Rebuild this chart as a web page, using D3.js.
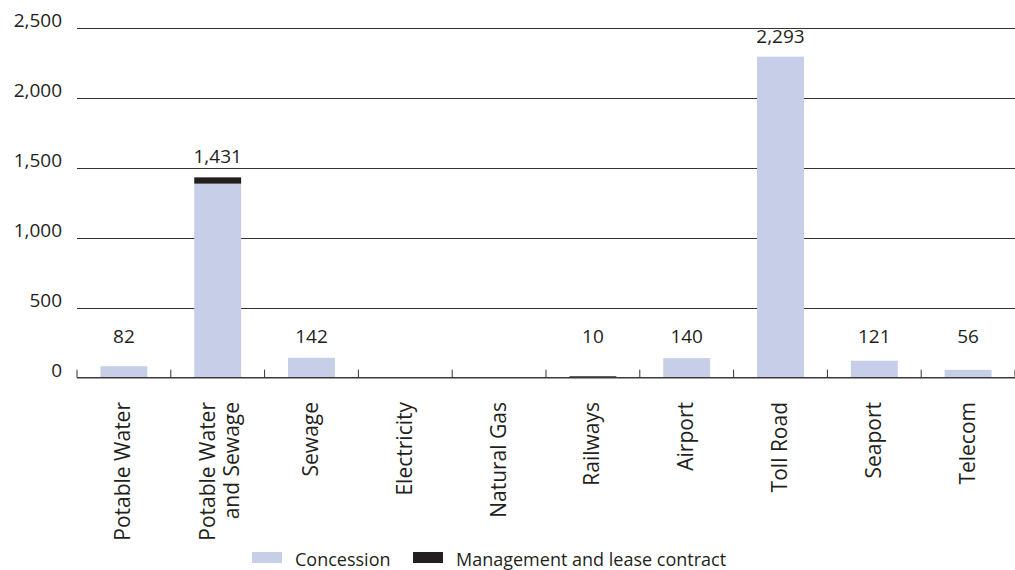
<!DOCTYPE html>
<html>
<head>
<meta charset="utf-8">
<script src="https://cdn.jsdelivr.net/npm/d3@7"></script>
<style>
  body { margin: 0; background: #fff; }
  text { font-family: "Open Sans", sans-serif; fill: #231f20; }
</style>
</head>
<body>
<div id="chart"></div>
<script>
var categories = ["Potable Water", "Potable Water\nand Sewage", "Sewage", "Electricity", "Natural Gas",
                  "Railways", "Airport", "Toll Road", "Seaport", "Telecom"];
var concession = [82, 1386, 142, 0, 0, 0, 140, 2293, 121, 56];
var management = [0, 45, 0, 0, 0, 10, 0, 0, 0, 0];
var yTicks = [0, 500, 1000, 1500, 2000, 2500];
var seriesNames = ["Concession", "Management and lease contract"];
var colors = ["#c6cee8", "#231f20"];

var width = 1015, height = 570;

var svg = d3.select("#chart").append("svg")
    .attr("width", width)
    .attr("height", height);

var x = d3.scaleBand()
    .domain(categories)
    .range([77, 1015])
    .padding(0);

var y = d3.scaleLinear()
    .domain([0, 2500])
    .range([377.7, 27.7]);

var fmt = d3.format(",");

// gridlines + y labels
svg.append("g").selectAll("line")
    .data(yTicks.filter(function(d) { return d > 0; }))
    .enter().append("line")
    .attr("x1", 77).attr("x2", 1015)
    .attr("y1", function(d) { return Math.round(y(d)) + 0.5; })
    .attr("y2", function(d) { return Math.round(y(d)) + 0.5; })
    .attr("stroke", "#333")
    .attr("stroke-width", 1);

svg.append("g").selectAll("text")
    .data(yTicks)
    .enter().append("text")
    .attr("x", 62)
    .attr("y", function(d) { return y(d) - 1; })
    .attr("text-anchor", "end")
    .style("font-size", "19px")
    .text(function(d) { return fmt(d); });

// stacked bars
var rows = categories.map(function(c, i) {
  return {cat: c, concession: concession[i], management: management[i]};
});
var stack = d3.stack().keys(["concession", "management"])(rows);

svg.append("g").selectAll("g")
    .data(stack)
    .enter().append("g")
    .attr("fill", function(d, i) { return colors[i]; })
    .selectAll("rect")
    .data(function(d) { return d; })
    .enter().append("rect")
    .attr("x", function(d) { return x(d.data.cat) + x.bandwidth() * 0.25; })
    .attr("width", x.bandwidth() * 0.5)
    .attr("y", function(d) { return y(d[1]); })
    .attr("height", function(d) { return y(d[0]) - y(d[1]); });

// x axis line and boundary ticks
var axisY = y(0);
svg.append("line")
    .attr("x1", 77).attr("x2", 1015)
    .attr("y1", axisY).attr("y2", axisY)
    .attr("stroke", "#3a3a3a")
    .attr("stroke-width", 1.6);

var bounds = categories.map(function(c) { return x(c); }).concat([x.range()[1]]);
svg.append("g").selectAll("line")
    .data(bounds)
    .enter().append("line")
    .attr("x1", function(d) { return d; })
    .attr("x2", function(d) { return d; })
    .attr("y1", axisY)
    .attr("y2", axisY - 8)
    .attr("stroke", "#333")
    .attr("stroke-width", 1);

// value labels (small bars share a common label line)
svg.append("g").selectAll("text")
    .data(rows.filter(function(d) { return d.concession + d.management > 0; }))
    .enter().append("text")
    .attr("x", function(d) { return x(d.cat) + x.bandwidth() / 2; })
    .attr("y", function(d) { return Math.min(y(d.concession + d.management) - 14, y(250)); })
    .attr("text-anchor", "middle")
    .style("font-size", "19px")
    .text(function(d) { return fmt(d.concession + d.management); });

// category labels, rotated
var lab = svg.append("g").selectAll("text")
    .data(categories)
    .enter().append("text")
    .attr("text-anchor", "end")
    .style("font-size", "21px")
    .attr("transform", function(d) {
      var cx = x(d) + x.bandwidth() / 2;
      return "translate(" + cx + ",402) rotate(-90)";
    });

lab.selectAll("tspan")
    .data(function(d) {
      var parts = d.split("\n");
      return parts.map(function(p, i) { return {t: p, i: i, n: parts.length}; });
    })
    .enter().append("tspan")
    .attr("x", 0)
    .attr("y", function(d) { return (d.n > 1 ? -2.5 : 6.5) + d.i * 24; })
    .text(function(d) { return d.t; });

// legend
var legend = svg.append("g");
var legX = [252, 413];
seriesNames.forEach(function(name, i) {
  legend.append("rect")
    .attr("x", legX[i]).attr("y", 552)
    .attr("width", 30).attr("height", 11)
    .attr("fill", colors[i]);
  legend.append("text")
    .attr("x", legX[i] + 43).attr("y", 566)
    .style("font-size", "18px")
    .text(name);
});
</script>
</body>
</html>
